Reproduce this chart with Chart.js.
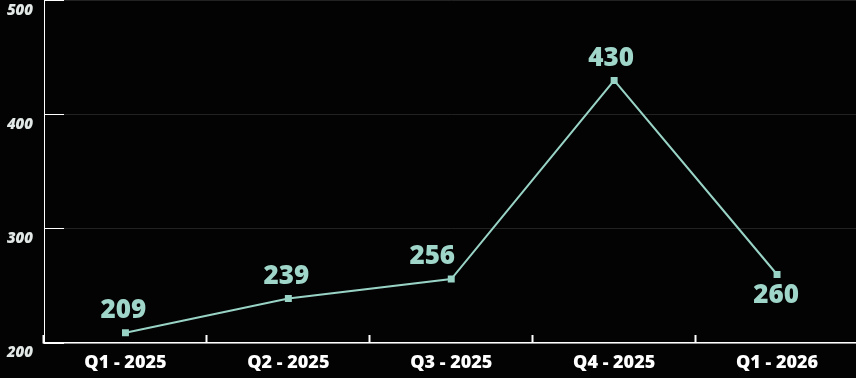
<!DOCTYPE html>
<html>
<head>
<meta charset="utf-8">
<script src="https://cdn.jsdelivr.net/npm/chart.js@4/dist/chart.umd.min.js"></script>
<style>
  html, body { margin: 0; padding: 0; background: #030303; overflow: hidden; }
  #myChart { position: absolute; left: 0; top: -5px; }
</style>
</head>
<body>
<canvas id="myChart" width="864" height="383"></canvas>
<script>
// quarters and values
const quarters = ['Q1 - 2025', 'Q2 - 2025', 'Q3 - 2025', 'Q4 - 2025', 'Q1 - 2026'];
const values = [209, 239, 256, 430, 260];
const yTicks = [200, 300, 400, 500];

const mint = '#98d3c5';

// draws the value next to each point (nudged a bit so it clears the line)
const labelNudge = [-2, -2, -19, -3, -1];
const valueLabels = {
    id: 'valueLabels',
    afterDatasetsDraw(chart) {
        const ctx = chart.ctx;
        const meta = chart.getDatasetMeta(0);
        ctx.save();
        ctx.font = '800 26px "Open Sans", sans-serif';
        ctx.fillStyle = '#9fd6c9';
        ctx.textAlign = 'center';
        ctx.textBaseline = 'middle';
        meta.data.forEach((pt, i) => {
            const below = i > 0 && i === meta.data.length - 1;
            ctx.fillText(values[i], pt.x + labelNudge[i], pt.y + (below ? 21 : -22));
        });
        ctx.restore();
    }
};

const ctx = document.getElementById('myChart').getContext('2d');
new Chart(ctx, {
    type: 'line',
    data: {
        labels: quarters,
        datasets: [{
            data: values,
            borderColor: mint,
            backgroundColor: mint,
            borderWidth: 2,
            pointStyle: 'rect',
            pointRadius: 3.5,
            pointHoverRadius: 3.5,
            tension: 0
        }]
    },
    options: {
        responsive: false,
        animation: false,
        events: [],
        plugins: {
            legend: { display: false },
            tooltip: { enabled: false }
        },
        scales: {
            x: {
                offset: true,
                grid: {
                    offset: true,
                    drawOnChartArea: false,
                    tickLength: -8,
                    tickColor: '#ffffff',
                    tickWidth: 2
                },
                border: { color: '#ffffff', width: 1.5 },
                ticks: {
                    color: '#ffffff',
                    padding: 17,
                    font: { family: '"Open Sans", sans-serif', size: 18, weight: '800' }
                },
                afterFit(scale) { scale.height = 35; }
            },
            y: {
                min: 200,
                max: 500,
                afterBuildTicks(scale) { scale.ticks = yTicks.map(v => ({ value: v })); },
                grid: {
                    color: '#222222',
                    tickLength: -20,
                    tickColor: '#ffffff',
                    lineWidth: 1
                },
                border: { color: '#ffffff', width: 1 },
                ticks: {
                    color: '#e2e8e6',
                    padding: 31,
                    labelOffset: 10,
                    font: { family: '"Open Sans", sans-serif', size: 15, weight: '800', style: 'italic' }
                },
                afterFit(scale) {
                    scale.width = 44;
                    scale.paddingTop = 1;
                    scale.paddingBottom = 0;
                }
            }
        }
    },
    plugins: [valueLabels]
});
</script>
</body>
</html>
